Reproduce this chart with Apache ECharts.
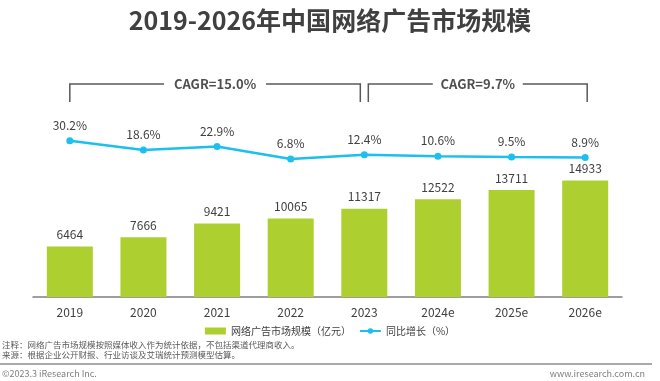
<!DOCTYPE html>
<html>
<head>
<meta charset="utf-8">
<script src="https://cdn.jsdelivr.net/npm/echarts@6/dist/echarts.min.js"></script>
<style>html,body{margin:0;padding:0;background:#fff}#c{width:660px;height:381px}</style>
</head>
<body>
<div id="c"></div>
<script>
const categories = ['2019','2020','2021','2022','2023','2024e','2025e','2026e'];
const marketSize = [6464, 7666, 9421, 10065, 11317, 12522, 13711, 14933];
const growth = [30.2, 18.6, 22.9, 6.8, 12.4, 10.6, 9.5, 8.9];
const cagrLabels = ['CAGR=15.0%', 'CAGR=9.7%'];
const cagrRanges = [[0, 4], [4, 7]];
const titleText = '2019-2026年中国网络广告市场规模';
const noteText = '注释：网络广告市场规模按照媒体收入作为统计依据，不包括渠道代理商收入。';
const sourceText = '来源：根据企业公开财报、行业访谈及艾瑞统计预测模型估算。';

const FONT = '"Noto Sans CJK SC", "Noto Sans", sans-serif';
const chart = echarts.init(document.getElementById('c'));
chart.setOption({
  animation: false,
  textStyle: { fontFamily: FONT },
  title: {
    text: titleText, left: 'center', top: 3,
    textStyle: { fontSize: 25, fontWeight: 'bold', color: '#404040', fontFamily: FONT }
  },
  grid: { left: 33, right: 38, top: 63, bottom: 84 },
  legend: {
    bottom: 40, left: 'center',
    itemWidth: 21, itemHeight: 7, itemGap: 8,
    textStyle: { fontSize: 10, color: '#404040', fontFamily: FONT },
    data: [
      { name: '网络广告市场规模（亿元）', icon: 'rect' },
      { name: '同比增长（%）' }
    ]
  },
  xAxis: {
    type: 'category', data: categories,
    axisLine: { lineStyle: { color: '#7f7f7f', width: 1.5 } },
    axisTick: { show: false },
    axisLabel: { color: '#404040', fontSize: 12, margin: 9 }
  },
  yAxis: [
    { type: 'value', min: 0, max: 30000, show: false, splitLine: { show: false } },
    { type: 'value', min: -170, max: 130, show: false, splitLine: { show: false } }
  ],
  series: [
    {
      name: '网络广告市场规模（亿元）', type: 'bar', data: marketSize, barWidth: 46,
      itemStyle: { color: '#aecf30' },
      label: { show: true, position: 'top', distance: 6, color: '#404040', fontSize: 12 }
    },
    {
      name: '同比增长（%）', type: 'line', yAxisIndex: 1, data: growth,
      symbol: 'circle', symbolSize: 7,
      lineStyle: { color: '#1dbfee', width: 2.5 },
      itemStyle: { color: '#1dbfee' },
      label: { show: true, position: 'top', distance: 6, color: '#404040', fontSize: 12,
        formatter: p => p.value.toFixed(1) + '%' }
    }
  ]
});

// CAGR brackets, positioned from the category axis
const graphics = [];
const yH = 84, yV = 102, offs = [[0, -4], [4, 2]];
cagrRanges.forEach((r, i) => {
  const x1 = chart.convertToPixel({ xAxisIndex: 0 }, categories[r[0]]) + offs[i][0];
  const x2 = chart.convertToPixel({ xAxisIndex: 0 }, categories[r[1]]) + offs[i][1];
  const xm = (x1 + x2) / 2;
  const half = i === 0 ? 51 : 45;
  const ls = { stroke: '#595959', lineWidth: 1.5, fill: null };
  graphics.push({ type: 'polyline', shape: { points: [[x1, yV], [x1, yH], [xm - half, yH]] }, style: ls });
  graphics.push({ type: 'polyline', shape: { points: [[xm + half, yH], [x2, yH], [x2, yV]] }, style: ls });
  graphics.push({ type: 'text', x: xm, y: yH, style: { text: cagrLabels[i], fill: '#505050',
    font: 'bold 13px ' + FONT, textAlign: 'center', textVerticalAlign: 'middle' } });
});
graphics.push({ type: 'text', x: 2, y: 345, style: { text: noteText, fill: '#595959', font: '8.5px ' + FONT, textVerticalAlign: 'middle' } });
graphics.push({ type: 'text', x: 2, y: 355, style: { text: sourceText, fill: '#595959', font: '8.5px ' + FONT, textVerticalAlign: 'middle' } });
graphics.push({ type: 'line', shape: { x1: 0, y1: 364, x2: 652, y2: 364 }, style: { stroke: '#8c8c8c', lineWidth: 1.5 } });
graphics.push({ type: 'text', x: 2, y: 374, style: { text: '©2023.3 iResearch Inc.', fill: '#7f7f7f', font: '9px ' + FONT, textVerticalAlign: 'middle' } });
graphics.push({ type: 'text', x: 645, y: 374, style: { text: 'www.iresearch.com.cn', fill: '#7f7f7f', font: '9px ' + FONT, textAlign: 'right', textVerticalAlign: 'middle' } });
chart.setOption({ graphic: graphics });
</script>
</body>
</html>
